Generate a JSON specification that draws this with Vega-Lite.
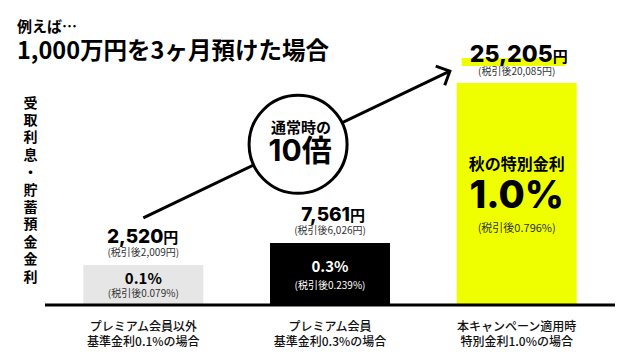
{
  "$schema": "https://vega.github.io/schema/vega-lite/v6.json",
  "width": 570,
  "height": 222,
  "autosize": {"type": "none"},
  "padding": {"left": 45, "top": 83, "right": 27, "bottom": 55},
  "background": "white",
  "config": {
    "view": {"stroke": null},
    "font": "Noto Sans CJK JP",
    "text": {"font": "Noto Sans CJK JP"},
    "axis": {"disable": true}
  },
  "title": {
    "text": "例えば…",
    "subtitle": "1,000万円を3ヶ月預けた場合",
    "anchor": "start",
    "frame": "group",
    "dx": -28,
    "dy": 39,
    "offset": 20,
    "font": "Noto Sans CJK JP",
    "fontSize": 15,
    "fontWeight": "bold",
    "color": "#000000",
    "subtitleFont": "Noto Sans CJK JP",
    "subtitleFontSize": 23.5,
    "subtitleFontWeight": "bold",
    "subtitleColor": "#000000",
    "subtitlePadding": 5
  },
  "data": {
    "values": [
      {"order": 1, "plan": "プレミアム会員以外\n基準金利0.1%の場合", "interest": 2520, "net": "(税引後2,009円)", "rate": 0.001, "net_rate": "(税引後0.079%)"},
      {"order": 2, "plan": "プレミアム会員\n基準金利0.3%の場合", "interest": 7561, "net": "(税引後6,026円)", "rate": 0.003, "net_rate": "(税引後0.239%)"},
      {"order": 3, "plan": "本キャンペーン適用時\n特別金利1.0%の場合", "interest": 25205, "net": "(税引後20,085円)", "rate": 0.01, "net_rate": "(税引後0.796%)"}
    ]
  },
  "layer": [
    {
      "mark": {"type": "bar", "width": 120},
      "encoding": {
        "x": {"field": "order", "type": "quantitative", "scale": {"domain": [0.5, 3.5], "nice": false, "zero": false}},
        "y": {
          "field": "interest", "type": "quantitative", "stack": null,
          "scale": {"type": "pow", "exponent": 1.62, "domain": [-9070, 25205], "zero": false, "nice": false}
        },
        "y2": {"datum": -9070},
        "color": {
          "field": "plan", "type": "nominal", "legend": null,
          "scale": {"domain": ["プレミアム会員以外\n基準金利0.1%の場合", "プレミアム会員\n基準金利0.3%の場合", "本キャンペーン適用時\n特別金利1.0%の場合"], "range": ["#e6e6e6", "#000000", "#f0ff00"]}
        }
      }
    },
    {
      "data": {"values": [{"line": "baseline", "level": -9070}]},
      "mark": {"type": "rule", "strokeWidth": 3, "color": "#000000"},
      "encoding": {
        "y": {"field": "level", "type": "quantitative"}
      }
    },
    {
      "data": {"values": [{"vx": 0.395, "vy": 23440, "label": "受\n取\n利\n息\n・\n貯\n蓄\n預\n金\n金\n利"}]},
      "mark": {"type": "text", "fontSize": 14, "fontWeight": "bold", "baseline": "middle", "align": "center", "lineBreak": "\n", "lineHeight": 17.4, "color": "#000000"},
      "encoding": {
        "x": {"field": "vx", "type": "quantitative"},
        "y": {"field": "vy", "type": "quantitative"},
        "text": {"field": "label", "type": "nominal"}
      }
    },
    {
      "transform": [{"filter": "datum.order == 3"}],
      "mark": {"type": "point", "shape": "M-1,-0.077L1,-0.077L1,0.077L-1,0.077Z", "size": 10816, "filled": true, "fill": "#f0ff00", "strokeWidth": 0, "opacity": 1, "yOffset": -21, "xOffset": -3},
      "encoding": {
        "x": {"field": "order", "type": "quantitative"},
        "y": {"field": "interest", "type": "quantitative"}
      }
    },
    {
      "transform": [{"filter": "datum.order < 3"}],
      "mark": {"type": "text", "font": "Inter, Noto Sans CJK JP", "fontSize": 19, "fontWeight": 800, "align": "right", "baseline": "alphabetic", "dx": 20, "dy": -22, "color": "#000000"},
      "encoding": {
        "x": {"field": "order", "type": "quantitative"},
        "y": {"field": "interest", "type": "quantitative"},
        "text": {"field": "interest", "type": "quantitative", "format": ","}
      }
    },
    {
      "transform": [{"filter": "datum.order < 3"}],
      "mark": {"type": "text", "text": "円", "fontSize": 15, "fontWeight": "bold", "align": "left", "baseline": "alphabetic", "dx": 20, "dy": -22, "color": "#000000"},
      "encoding": {
        "x": {"field": "order", "type": "quantitative"},
        "y": {"field": "interest", "type": "quantitative"}
      }
    },
    {
      "transform": [{"filter": "datum.order == 3"}],
      "mark": {"type": "text", "font": "Inter, Noto Sans CJK JP", "fontSize": 23, "fontWeight": 800, "align": "right", "baseline": "alphabetic", "dx": 36, "dy": -21, "color": "#000000"},
      "encoding": {
        "x": {"field": "order", "type": "quantitative"},
        "y": {"field": "interest", "type": "quantitative"},
        "text": {"field": "interest", "type": "quantitative", "format": ","}
      }
    },
    {
      "transform": [{"filter": "datum.order == 3"}],
      "mark": {"type": "text", "text": "円", "fontSize": 15, "fontWeight": "bold", "align": "left", "baseline": "alphabetic", "dx": 36, "dy": -21, "color": "#000000"},
      "encoding": {
        "x": {"field": "order", "type": "quantitative"},
        "y": {"field": "interest", "type": "quantitative"}
      }
    },
    {
      "mark": {"type": "text", "fontSize": 10, "baseline": "middle", "dy": -11.5, "color": "#333333"},
      "encoding": {
        "x": {"field": "order", "type": "quantitative"},
        "y": {"field": "interest", "type": "quantitative"},
        "text": {"field": "net", "type": "nominal"}
      }
    },
    {
      "transform": [{"filter": "datum.order == 1"}],
      "mark": {"type": "text", "fontSize": 15, "fontWeight": "bold", "baseline": "middle", "dy": 14, "color": "#000000"},
      "encoding": {
        "x": {"field": "order", "type": "quantitative"},
        "y": {"field": "interest", "type": "quantitative"},
        "text": {"field": "rate", "type": "quantitative", "format": ".1%"}
      }
    },
    {
      "transform": [{"filter": "datum.order == 1"}],
      "mark": {"type": "text", "fontSize": 10, "baseline": "middle", "dy": 29, "color": "#333333"},
      "encoding": {
        "x": {"field": "order", "type": "quantitative"},
        "y": {"field": "interest", "type": "quantitative"},
        "text": {"field": "net_rate", "type": "nominal"}
      }
    },
    {
      "transform": [{"filter": "datum.order == 2"}],
      "mark": {"type": "text", "fontSize": 15, "fontWeight": "bold", "baseline": "middle", "dy": 24, "color": "#ffffff"},
      "encoding": {
        "x": {"field": "order", "type": "quantitative"},
        "y": {"field": "interest", "type": "quantitative"},
        "text": {"field": "rate", "type": "quantitative", "format": ".1%"}
      }
    },
    {
      "transform": [{"filter": "datum.order == 2"}],
      "mark": {"type": "text", "fontSize": 10, "baseline": "middle", "dy": 43, "color": "#ffffff"},
      "encoding": {
        "x": {"field": "order", "type": "quantitative"},
        "y": {"field": "interest", "type": "quantitative"},
        "text": {"field": "net_rate", "type": "nominal"}
      }
    },
    {
      "transform": [{"filter": "datum.order == 3"}],
      "mark": {"type": "text", "text": "秋の特別金利", "fontSize": 16, "fontWeight": "bold", "baseline": "middle", "dy": 82, "color": "#000000"},
      "encoding": {
        "x": {"field": "order", "type": "quantitative"},
        "y": {"field": "interest", "type": "quantitative"}
      }
    },
    {
      "transform": [{"filter": "datum.order == 3"}],
      "mark": {"type": "text", "font": "Inter, Noto Sans CJK JP", "fontSize": 38, "fontWeight": 800, "baseline": "middle", "dy": 113.5, "color": "#000000"},
      "encoding": {
        "x": {"field": "order", "type": "quantitative"},
        "y": {"field": "interest", "type": "quantitative"},
        "text": {"field": "rate", "type": "quantitative", "format": ".1%"}
      }
    },
    {
      "transform": [{"filter": "datum.order == 3"}],
      "mark": {"type": "text", "fontSize": 11, "baseline": "middle", "dy": 146, "color": "#333333"},
      "encoding": {
        "x": {"field": "order", "type": "quantitative"},
        "y": {"field": "interest", "type": "quantitative"},
        "text": {"field": "net_rate", "type": "nominal"}
      }
    },
    {
      "mark": {"type": "text", "fontSize": 12, "fontWeight": 500, "baseline": "alphabetic", "dy": 26, "lineHeight": 15, "lineBreak": "\n", "color": "#111111"},
      "encoding": {
        "x": {"field": "order", "type": "quantitative"},
        "y": {"datum": -9070, "type": "quantitative"},
        "text": {"field": "plan", "type": "nominal"}
      }
    },
    {
      "data": {"values": [{"x_from": 1, "y_from": 11400, "x_to": 2.642, "y_to": 26180}]},
      "mark": {"type": "rule", "strokeWidth": 3, "color": "#000000"},
      "encoding": {
        "x": {"field": "x_from", "type": "quantitative"},
        "y": {"field": "y_from", "type": "quantitative"},
        "x2": {"field": "x_to"},
        "y2": {"field": "y_to"}
      }
    },
    {
      "data": {"values": [{"x_to": 2.642, "y_to": 26180}]},
      "mark": {"type": "point", "shape": "M-1,-1L0,0L-1,1", "size": 450, "angle": -25.2, "filled": false, "stroke": "#000000", "strokeWidth": 3, "opacity": 1, "strokeJoin": "miter"},
      "encoding": {
        "x": {"field": "x_to", "type": "quantitative"},
        "y": {"field": "y_to", "type": "quantitative"}
      }
    },
    {
      "data": {"values": [{"cx": 1.829, "cy": 19700, "line1": "通常時の", "line2": "10倍"}]},
      "layer": [
        {
          "mark": {"type": "point", "shape": "circle", "size": 9600, "filled": true, "fill": "#ffffff", "stroke": "#000000", "strokeWidth": 3, "opacity": 1},
          "encoding": {
            "x": {"field": "cx", "type": "quantitative"},
            "y": {"field": "cy", "type": "quantitative"}
          }
        },
        {
          "mark": {"type": "text", "fontSize": 15, "fontWeight": "bold", "baseline": "middle", "dy": -16.5, "dx": 3, "color": "#000000"},
          "encoding": {
            "x": {"field": "cx", "type": "quantitative"},
            "y": {"field": "cy", "type": "quantitative"},
            "text": {"field": "line1", "type": "nominal"}
          }
        },
        {
          "mark": {"type": "text", "font": "Inter, Noto Sans CJK JP", "fontSize": 30, "fontWeight": "bold", "baseline": "middle", "dy": 8, "dx": 2, "color": "#000000"},
          "encoding": {
            "x": {"field": "cx", "type": "quantitative"},
            "y": {"field": "cy", "type": "quantitative"},
            "text": {"field": "line2", "type": "nominal"}
          }
        }
      ]
    }
  ]
}
